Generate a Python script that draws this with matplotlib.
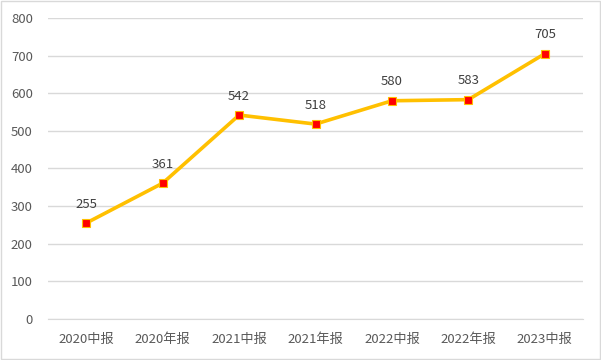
import matplotlib
matplotlib.use("Agg")
import matplotlib.pyplot as plt
from matplotlib.patches import Rectangle

plt.rcParams['font.family'] = ['Noto Sans CJK SC', 'DejaVu Sans']

categories = ["2020中报", "2020年报", "2021中报", "2021年报", "2022中报", "2022年报", "2023中报"]
values = [255, 361, 542, 518, 580, 583, 705]
yticks = [0, 100, 200, 300, 400, 500, 600, 700, 800]

fig = plt.figure(figsize=(6.01, 3.6), dpi=100)
ax = fig.add_axes([0.080, 0.114, 0.890, 0.836])
fig.patches.append(Rectangle((0.002, 0.003), 0.996, 0.994, transform=fig.transFigure,
                             fill=False, edgecolor='#d9d9d9', linewidth=1))

x = list(range(len(categories)))
ax.plot(x, values, color='#FFC000', linewidth=2.6, marker='s', markersize=6,
        markerfacecolor='#FF0000', markeredgecolor='#FFC000', markeredgewidth=0.8, zorder=3)
for xi, v in zip(x, values):
    ax.annotate(str(v), (xi, v), xytext=(0, 9), textcoords='offset points',
                ha='center', va='bottom', fontsize=9.5, color='#404040')

ax.set_xlim(-0.5, len(categories) - 0.5)
ax.set_ylim(0, 800)
ax.set_yticks(yticks)
ax.set_xticks(x)
ax.set_xticklabels(categories)
ax.grid(axis='y', color='#d9d9d9', linewidth=1)
ax.set_axisbelow(True)
for s in ['top', 'right', 'left']:
    ax.spines[s].set_visible(False)
ax.spines['bottom'].set_color('#d9d9d9')
ax.tick_params(axis='both', length=0, labelsize=9.5, colors='#595959')
ax.tick_params(axis='y', pad=11)
ax.tick_params(axis='x', pad=10)
for lbl in ax.get_yticklabels():
    lbl.set_horizontalalignment('right')

fig.savefig("out.png", dpi=100)
